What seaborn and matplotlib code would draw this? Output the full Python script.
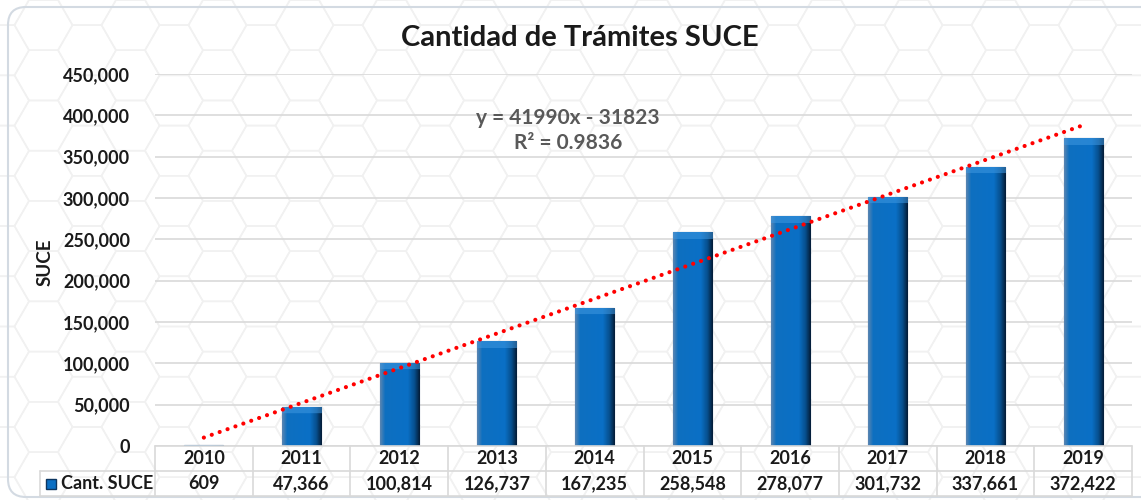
import numpy as np
import pandas as pd
import matplotlib
matplotlib.use("Agg")
import matplotlib.pyplot as plt
from matplotlib.patches import RegularPolygon, FancyBboxPatch, Rectangle
from matplotlib.colors import LinearSegmentedColormap, to_rgb
import seaborn as sns

# ---- data ----
years = ["2010", "2011", "2012", "2013", "2014", "2015", "2016", "2017", "2018", "2019"]
suce = [609, 47366, 100814, 126737, 167235, 258548, 278077, 301732, 337661, 372422]
value_labels = ["609", "47,366", "100,814", "126,737", "167,235", "258,548",
                "278,077", "301,732", "337,661", "372,422"]
series_name = "Cant. SUCE"
title = "Cantidad de Trámites SUCE"
y_label = "SUCE"
eq_text = "y = 41990x - 31823"
r2_text = "R² = 0.9836"
y_ticks = [0, 50000, 100000, 150000, 200000, 250000, 300000, 350000, 400000, 450000]

sns.set_theme(style="white")
plt.rcParams['font.family'] = ['Lato', 'DejaVu Sans']

W, H = 1141, 500
fig = plt.figure(figsize=(W / 100, H / 100), dpi=100)
fig.patch.set_facecolor("white")

# ---- background (hexagon pattern + rounded frame) ----
bg = fig.add_axes([0, 0, 1, 1], zorder=-5)
bg.set_xlim(0, W)
bg.set_ylim(H, 0)
bg.axis("off")
r = 29
dx = 1.5 * r
dy = np.sqrt(3) * r
for ci in range(-1, int(W / dx) + 3):
    for ri in range(-1, int(H / dy) + 3):
        cx = ci * dx
        cy = ri * dy + (dy / 2 if ci % 2 else 0)
        bg.add_patch(RegularPolygon((cx, cy), numVertices=6, radius=r,
                                    orientation=np.pi / 6, facecolor="none",
                                    edgecolor="#F1F1F1", lw=1.1))
bg.add_patch(FancyBboxPatch((8, 7), 1160, 490, boxstyle="round,pad=0,rounding_size=18",
                            facecolor="none", edgecolor="#D3DAE2", lw=1.5))

# ---- main axes ----
L, R, T, B = 155, 1132, 74, 446
ax = fig.add_axes([L / W, 1 - B / H, (R - L) / W, (B - T) / H])
ax.set_facecolor("none")

df = pd.DataFrame({"year": years, "value": suce})
sns.barplot(data=df, x="year", y="value", color="#0A6FC4", width=0.4,
            edgecolor="#0C3560", linewidth=0.8, saturation=1, ax=ax, zorder=3)

ax.set_xlim(-0.5, len(years) - 0.5)
ax.set_ylim(0, 450000)

# bevel-like shading on the bars
cmap = LinearSegmentedColormap.from_list(
    "bevel", [(0.0, "#5584B2"), (0.12, "#0E6FC0"), (0.7, "#0A70C6"),
              (0.87, "#07508F"), (1.0, "#041F3C")])
nx = 40
base = cmap(np.linspace(0, 1, nx))[:, :3]
light = np.array(to_rgb("#3E97E0"))
px_per_unit = (B - T) / 450000
for p in list(ax.patches):
    x0, w_, h_ = p.get_x(), p.get_width(), p.get_height()
    ny = max(int(round(h_ * px_per_unit)), 1)
    img = np.tile(base[None, :, :], (ny, 1, 1))
    top = min(7, ny)
    img[:top] = img[:top] * 0.45 + light * 0.55
    im = ax.imshow(img, extent=[x0, x0 + w_, 0, h_], aspect="auto",
                   origin="upper", zorder=3.2, interpolation="bilinear")
    im.set_clip_path(p)
ax.set_xlim(-0.5, len(years) - 0.5)
ax.set_ylim(0, 450000)

# trendline (linear fit on x = 1..n)
xs = np.arange(1, len(suce) + 1)
slope, intercept = np.polyfit(xs, suce, 1)
trend = slope * xs + intercept
ax.plot(np.arange(len(suce)), trend, color="#FF0000", lw=3,
        linestyle=(0, (0.01, 2.0)), dash_capstyle="round", zorder=4)

ax.set_yticks(y_ticks)
ax.set_yticklabels([f"{v:,}" for v in y_ticks], fontsize=13, fontweight="bold", color="#1A1A1A")
ax.tick_params(axis="y", length=0, pad=18)
ax.set_xticks([])
ax.set_xlabel("")
ax.set_ylabel("")
ax.yaxis.grid(True, color="#D9D9D9", lw=1.2, zorder=0)
ax.set_axisbelow(True)
for s in ax.spines.values():
    s.set_visible(False)

# title, y label, equation
fig.text(580 / W, 1 - 38 / H, title, ha="center", va="center",
         fontsize=21, fontweight="bold", color="#1A1A1A")
fig.text(45 / W, 1 - 262 / H, y_label, ha="center", va="center", rotation=90,
         fontsize=13.5, fontweight="bold", color="#1A1A1A")
fig.text(568 / W, 1 - 118 / H, eq_text, ha="center", va="center",
         fontsize=15, fontweight="bold", color="#595959")
fig.text(568 / W, 1 - 143 / H, r2_text, ha="center", va="center",
         fontsize=15, fontweight="bold", color="#595959")

# ---- data table below axes ----
ah = B - T
aw = R - L
row_h = 25 / ah
lab_left = (40 - L) / aw
gc = "#D9D9D9"
n = len(years)
kw = dict(transform=ax.transAxes, clip_on=False, color=gc, lw=1.2, zorder=5)
ax.plot([0, 1], [0, 0], **kw)
ax.plot([lab_left, 1], [-row_h, -row_h], **kw)
ax.plot([lab_left, 1], [-2 * row_h, -2 * row_h], **kw)
for k in range(n + 1):
    ax.plot([k / n, k / n], [0, -2 * row_h], **kw)
ax.plot([lab_left, lab_left], [-row_h, -2 * row_h], **kw)
for i in range(n):
    ax.text((i + 0.5) / n, -0.5 * row_h, years[i], transform=ax.transAxes,
            ha="center", va="center", fontsize=13, fontweight="bold", color="#1A1A1A")
    ax.text((i + 0.5) / n, -1.5 * row_h, value_labels[i], transform=ax.transAxes,
            ha="center", va="center", fontsize=13, fontweight="bold", color="#1A1A1A")
# legend key + series name
key_w = 10 / aw
key_h = 10 / ah
ax.add_patch(Rectangle(((46 - L) / aw, -1.5 * row_h - key_h / 2), key_w, key_h,
                       transform=ax.transAxes, clip_on=False, facecolor="#0A6FC4",
                       edgecolor="#0C3560", lw=1, zorder=6))
ax.text((61 - L) / aw, -1.5 * row_h, series_name, transform=ax.transAxes,
        ha="left", va="center", fontsize=13, fontweight="bold", color="#1A1A1A")

fig.savefig("out.png", dpi=100, facecolor="white")
